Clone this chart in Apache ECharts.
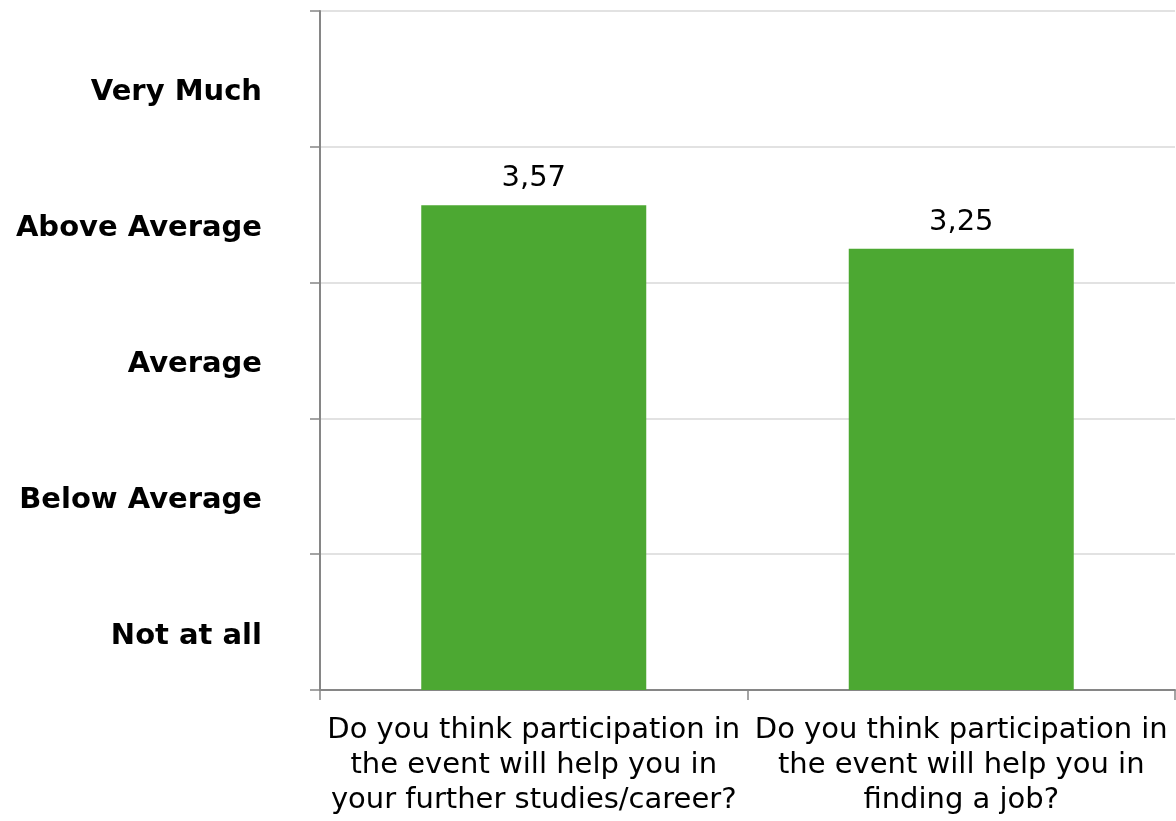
<!DOCTYPE html>
<html>
<head>
<meta charset="utf-8">
<script src="https://cdn.jsdelivr.net/npm/echarts@6/dist/echarts.min.js"></script>
<style>
html,body{margin:0;padding:0;background:#fff;}
#chart{width:1176px;height:821px;}
</style>
</head>
<body>
<div id="chart"></div>
<script>
const categories = [
  'Do you think participation in\nthe event will help you in\nyour further studies/career?',
  'Do you think participation in\nthe event will help you in\nfinding a job?'
];
const values = [3.57, 3.25];
const scaleLabels = ['Not at all', 'Below Average', 'Average', 'Above Average', 'Very Much'];

const FONT = 'DejaVu Sans';
const chart = echarts.init(document.getElementById('chart'), null, {renderer: 'canvas'});
chart.setOption({
  animation: false,
  backgroundColor: '#ffffff',
  textStyle: {fontFamily: FONT},
  grid: {left: 320, right: 1, top: 11, bottom: 131, containLabel: false, outerBoundsMode: 'none'},
  xAxis: {
    type: 'category',
    data: categories,
    boundaryGap: true,
    axisLine: {show: true, lineStyle: {color: '#868686', width: 2}},
    axisTick: {show: true, length: 10, alignWithLabel: false, lineStyle: {color: '#868686', width: 1.5}},
    axisLabel: {interval: 0, color: '#000', fontFamily: FONT, fontSize: 29, lineHeight: 35, margin: 23, align: 'center'},
    splitLine: {show: false}
  },
  yAxis: [
    {
      type: 'value',
      min: 0, max: 5, interval: 1,
      position: 'left',
      axisLine: {show: true, lineStyle: {color: '#868686', width: 2}},
      axisTick: {show: true, length: 10, lineStyle: {color: '#868686', width: 1.5}},
      axisLabel: {show: false},
      splitLine: {show: true, lineStyle: {color: '#d9d9d9', width: 1.5}}
    },
    {
      type: 'category',
      data: scaleLabels,
      position: 'left',
      boundaryGap: true,
      axisLine: {show: false},
      axisTick: {show: false},
      splitLine: {show: false},
      axisLabel: {interval: 0, color: '#000', fontFamily: FONT, fontWeight: 'bold', fontSize: 29, lineHeight: 28, margin: 58, verticalAlign: 'top'}
    }
  ],
  series: [{
    type: 'bar',
    yAxisIndex: 0,
    data: values,
    barWidth: 225,
    itemStyle: {color: '#4ca832'},
    label: {
      show: true,
      position: 'top',
      distance: 12,
      color: '#000',
      fontFamily: FONT,
      fontSize: 29,
      formatter: p => String(p.value.toFixed(2)).replace('.', ',')
    }
  }]
});
</script>
</body>
</html>
